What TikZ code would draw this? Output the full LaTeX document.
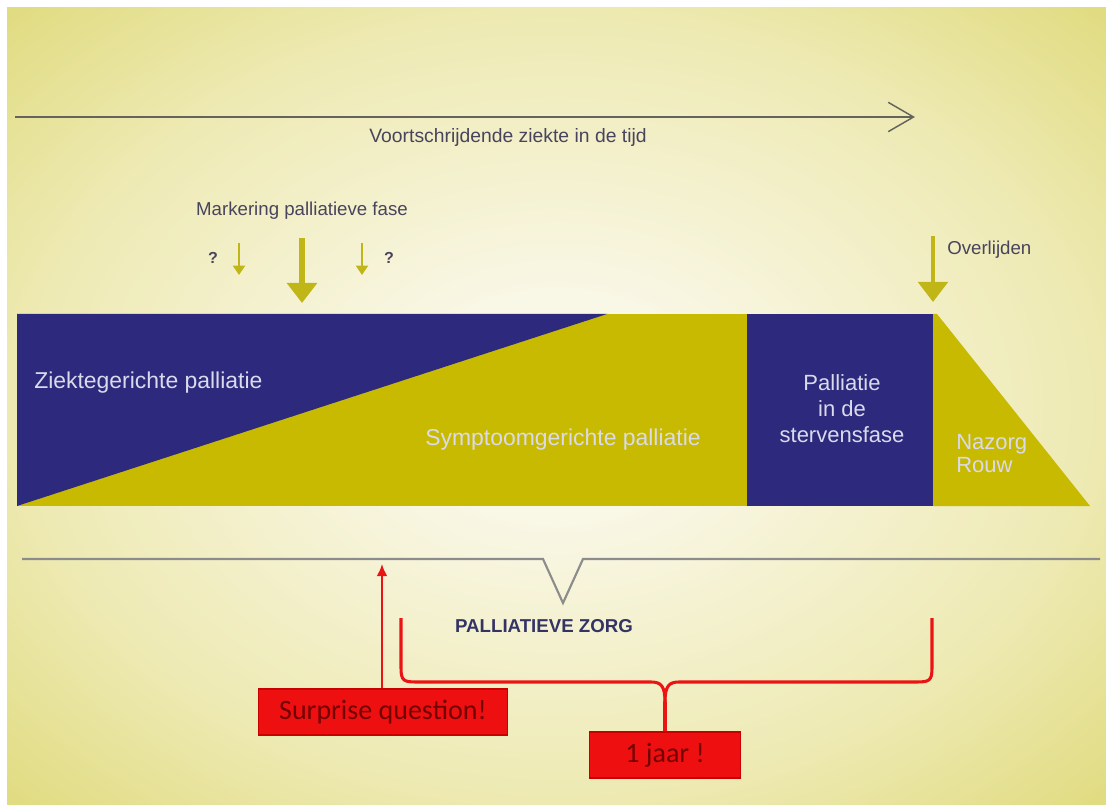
\documentclass[tikz,border=0pt]{standalone}
\usepackage{fontspec}
\setmainfont{Liberation Sans}
\newfontfamily\calfont{Carlito}
\usetikzlibrary{arrows.meta}
\definecolor{bgin}{RGB}{249,247,230}
\definecolor{bgmid}{RGB}{238,234,180}
\definecolor{bgout}{RGB}{216,211,98}
\definecolor{bandblue}{RGB}{45,42,125}
\definecolor{bandolive}{RGB}{200,186,0}
\definecolor{bandtext}{RGB}{218,218,236}
\definecolor{darktext}{RGB}{72,68,92}
\definecolor{navytext}{RGB}{52,52,100}
\definecolor{olivearrow}{RGB}{192,182,24}
\definecolor{axisgray}{RGB}{100,100,92}
\definecolor{linegray}{RGB}{140,140,140}
\definecolor{redline}{RGB}{235,20,20}
\definecolor{redbox}{RGB}{238,16,16}
\definecolor{redborder}{RGB}{200,0,0}
\definecolor{redtext}{RGB}{115,0,0}
\pgfdeclareradialshading{bgshade}{\pgfpoint{0bp}{0bp}}{color(0bp)=(bgin); color(7bp)=(bgin); color(24bp)=(bgmid); color(42bp)=(bgout); color(80bp)=(bgout)}
\begin{document}
\begin{tikzpicture}[x=0.75pt,y=-0.75pt,
  toptext/.style={font=\fontsize{14}{16}\selectfont, text=darktext, inner sep=0pt, anchor=base},
  bandlabel/.style={font=\fontsize{16.5}{19.5}\selectfont, text=bandtext, inner sep=0pt, anchor=base},
  rednote/.style={draw=redborder, line width=1pt, fill=redbox, text=redtext, font=\calfont\fontsize{21}{24}\selectfont, inner sep=0pt},
  redconn/.style={draw=redline, line width=2.3pt, line join=round},
  olivebig/.style={draw=olivearrow, -{Triangle[width=22pt,length=15pt]}},
  olivesmall/.style={draw=olivearrow, line width=1.5pt, -{Triangle[width=9pt,length=7pt]}}
]
\useasboundingbox (0,0) rectangle (1106,805);
\fill[white] (0,0) rectangle (1106,805);
\shade[shading=bgshade] (7,8) rectangle (1106,805);

% time axis
\coordinate (axisL) at (15,117);
\coordinate (axisR) at (915,117);
\draw[axisgray, line width=1.5pt, -{Straight Barb[length=19pt,width=22pt,line width=1.1pt]}] (axisL) -- (axisR);
\node[toptext, font=\fontsize{14.5}{16}\selectfont] (tijd) at (508,143) {Voortschrijdende ziekte in de tijd};

% markering
\node[toptext] (mark) at (302,216) {Markering palliatieve fase};
\node[toptext, font=\bfseries\fontsize{12}{14}\selectfont] (q1) at (213,264) {?};
\node[toptext, font=\bfseries\fontsize{12}{14}\selectfont] (q2) at (389,264) {?};
\coordinate (a1s) at (239,243); \coordinate (a1e) at (239,275);
\coordinate (a2s) at (362,243); \coordinate (a2e) at (362,275);
\coordinate (a3s) at (302,238); \coordinate (a3e) at (302,303);
\draw[olivesmall] (a1s) -- (a1e);
\draw[olivesmall] (a2s) -- (a2e);
\draw[olivebig, line width=3.8pt] (a3s) -- (a3e);

% overlijden
\node[toptext, anchor=base west] (over) at (947,255) {Overlijden};
\coordinate (a4s) at (933,236); \coordinate (a4e) at (933,302);
\draw[olivebig, line width=3pt] (a4s) -- (a4e);

% band
\fill[bandolive] (17,314) rectangle (747,506);
\fill[bandblue] (17,314) -- (607,314) -- (17,506) -- cycle;
\fill[bandblue] (747,314) rectangle (933,506);
\fill[bandolive] (933,314) -- (937,314) -- (1090,506) -- (933,506) -- cycle;

\node[bandlabel, font=\fontsize{17.2}{19.5}\selectfont, anchor=base west] (ziekte) at (34,388) {Ziektegerichte palliatie};
\node[bandlabel, font=\fontsize{17.2}{19.5}\selectfont] (sympt) at (563,445) {Symptoomgerichte palliatie};
\node[bandlabel] (pal1) at (842,390) {Palliatie};
\node[bandlabel] (pal2) at (842,416) {in de};
\node[bandlabel] (pal3) at (842,442) {stervensfase};
\node[bandlabel, anchor=base west] (naz1) at (956,449) {Nazorg};
\node[bandlabel, anchor=base west] (naz2) at (956,472) {Rouw};

% palliatieve zorg line
\coordinate (lineL) at (22,559);
\coordinate (lineR) at (1100,559);
\draw[linegray, line width=1.6pt, line join=miter] (lineL) -- (543,559) -- (563,603) -- (583,559) -- (lineR);
\node[toptext, font=\bfseries\fontsize{14}{16}\selectfont, text=navytext] (pz) at (544,632) {PALLIATIEVE ZORG};

% red annotations
\node[rednote, minimum width=187pt, minimum height=34.5pt] (surprise) at (383,712) {Surprise question!};
\node[rednote, minimum width=113pt, minimum height=34.5pt] (jaar) at (665,755) {1 jaar !};
\coordinate (sqtip) at (382,564);
\draw[draw=redline, line width=1.5pt, -{Latex[length=9pt,width=8pt]}] (surprise.north -| sqtip) -- (sqtip);

\coordinate (brL) at (401,618);
\coordinate (brR) at (932,618);
\coordinate (cusp) at (665,702);
\draw[redconn] (brL) -- (401,668) .. controls (401,681) and (404,682) .. (417,682)
  -- (651,682) .. controls (661,682) and (665,686) .. (cusp);
\draw[redconn] (brR) -- (932,668) .. controls (932,681) and (929,682) .. (916,682)
  -- (679,682) .. controls (669,682) and (665,686) .. (cusp);
\draw[redconn] (cusp) -- (jaar.north);
\end{tikzpicture}
\end{document}
